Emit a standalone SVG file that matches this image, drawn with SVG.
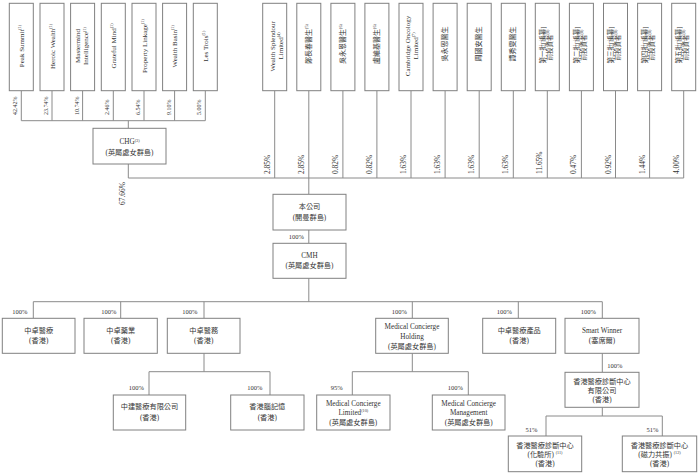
<svg xmlns="http://www.w3.org/2000/svg" width="700" height="475" viewBox="0 0 700 475">
<style>
.b{fill:#fff;stroke:#808080;stroke-width:1}
.l{stroke:#8a8a8a;stroke-width:1;fill:none}
.t{font-family:"Liberation Serif","Noto Sans CJK TC",serif;font-size:7.2px;fill:#333;text-anchor:middle}
.v{font-family:"Liberation Serif","Noto Sans CJK TC",serif;font-size:7px;fill:#333}
.vc{font-family:"Liberation Serif","Noto Sans CJK TC",serif;font-size:6.5px;fill:#333}
.p{font-family:"Liberation Serif",serif;font-size:6.5px;fill:#333}
.pl{font-family:"Liberation Serif",serif;font-size:6px;fill:#333}
.pr{font-family:"Liberation Serif",serif;font-size:7.4px;fill:#333}
.e{text-anchor:end}
.s{font-size:4.2px}
</style>
<rect width="700" height="475" fill="#fff"/>
<g id="connectors">
<path class="l" d="M21.3 90.7V120.7M52 90.7V120.7M82.6 90.7V120.7M113.3 90.7V120.7M144 90.7V120.7M174.6 90.7V120.7M205.3 90.7V120.7M21.3 120.7H205.3M128.3 120.7V128.3M128.3 164V178M128.3 178H683.7"/>
<path class="l" d="M274.7 90.7V178M308.8 90.7V194.3M342.9 90.7V178M376.9 90.7V178M411 90.7V178M445.1 90.7V178M479.2 90.7V178M513.3 90.7V178M547.3 90.7V178M581.4 90.7V178M615.5 90.7V178M649.6 90.7V178M683.7 90.7V178"/>
<path class="l" d="M308.8 230V243.3M308.8 278.3V301.7M33.3 301.7H602.3M33.3 301.7V318.3M120.7 301.7V318.3M204 301.7V318.3M412.3 301.7V318.3M518.3 301.7V318.3M602.3 301.7V318.3"/>
<path class="l" d="M204 353.3V371.7M149 371.7H270M149 371.7V395M270 371.7V395M412.3 353.3V371.7M352.3 371.7H468.3M352.3 371.7V395M468.3 371.7V395M602.3 353.3V372.3M602.3 407.3V416M546 416H662.3M546 416V436M662.3 416V436"/>
</g>
<g id="pct">
<text class="pl" transform="translate(17.3 115) rotate(-90)">42.42%</text>
<text class="pl" transform="translate(48 115) rotate(-90)">23.74%</text>
<text class="pl" transform="translate(78.6 115) rotate(-90)">10.74%</text>
<text class="pl" transform="translate(109.3 115) rotate(-90)">2.46%</text>
<text class="pl" transform="translate(140 115) rotate(-90)">6.54%</text>
<text class="pl" transform="translate(170.6 115) rotate(-90)">9.10%</text>
<text class="pl" transform="translate(201.3 115) rotate(-90)">5.00%</text>
<text class="pr" transform="translate(124.5 205) rotate(-90)">67.66%</text>
<text class="pr" transform="translate(269.7 174) rotate(-90)">2.85%</text>
<text class="pr" transform="translate(303.8 174) rotate(-90)">2.85%</text>
<text class="pr" transform="translate(337.9 174) rotate(-90)">0.82%</text>
<text class="pr" transform="translate(371.9 174) rotate(-90)">0.82%</text>
<text class="pr" transform="translate(406 174) rotate(-90)">1.63%</text>
<text class="pr" transform="translate(440.1 174) rotate(-90)">1.63%</text>
<text class="pr" transform="translate(474.2 174) rotate(-90)">1.63%</text>
<text class="pr" transform="translate(508.3 174) rotate(-90)">1.63%</text>
<text class="pr" transform="translate(542.3 174) rotate(-90)">11.65%</text>
<text class="pr" transform="translate(576.4 174) rotate(-90)">0.47%</text>
<text class="pr" transform="translate(610.5 174) rotate(-90)">0.92%</text>
<text class="pr" transform="translate(644.6 174) rotate(-90)">1.44%</text>
<text class="pr" transform="translate(678.7 174) rotate(-90)">4.00%</text>
<text class="p e" x="304" y="239">100%</text>
<text class="p e" x="27.5" y="313.5">100%</text>
<text class="p e" x="116.5" y="313.5">100%</text>
<text class="p e" x="197.5" y="313.5">100%</text>
<text class="p e" x="407" y="313.5">100%</text>
<text class="p e" x="512" y="313.5">100%</text>
<text class="p e" x="596" y="313.5">100%</text>
<text class="p e" x="144" y="390">100%</text>
<text class="p e" x="262.5" y="390">100%</text>
<text class="p e" x="342.7" y="390">95%</text>
<text class="p e" x="463" y="390">100%</text>
<text class="p" x="607.3" y="367.5">100%</text>
<text class="p e" x="537.3" y="432">51%</text>
<text class="p e" x="658.3" y="432">51%</text>
</g>
<g id="peak-summit"><rect class="b" x="9.3" y="3.3" width="24" height="87.4"/><text class="v" transform="translate(21.3 46) rotate(-90)" x="-21.2" y="2.5">Peak Summit<tspan class="s" dy="-2.8">(1)</tspan></text></g>
<g id="heroic-wealth"><rect class="b" x="40" y="3.3" width="24" height="87.4"/><text class="v" transform="translate(52 46) rotate(-90)" x="-23" y="2.5">Heroic Wealth<tspan class="s" dy="-2.8">(1)</tspan></text></g>
<g id="mastermind"><rect class="b" x="70.6" y="3.3" width="24" height="87.4"/><text class="v" transform="translate(82.6 46) rotate(-90)" x="-16.9" y="-2.2">Mastermind</text><text class="v" transform="translate(82.6 46) rotate(-90)" x="-19" y="5.8">Intelligence<tspan class="s" dy="-2.8">(1)</tspan></text></g>
<g id="grateful-mind"><rect class="b" x="101.3" y="3.3" width="24" height="87.4"/><text class="v" transform="translate(113.3 46) rotate(-90)" x="-22.6" y="2.5">Grateful Mind<tspan class="s" dy="-2.8">(1)</tspan></text></g>
<g id="property-linkage"><rect class="b" x="132" y="3.3" width="24" height="87.4"/><text class="v" transform="translate(144 46) rotate(-90)" x="-26.9" y="2.5">Property Linkage<tspan class="s" dy="-2.8">(1)</tspan></text></g>
<g id="wealth-basin"><rect class="b" x="162.6" y="3.3" width="24" height="87.4"/><text class="v" transform="translate(174.6 46) rotate(-90)" x="-21.4" y="2.5">Wealth Basin<tspan class="s" dy="-2.8">(1)</tspan></text></g>
<g id="les-trois"><rect class="b" x="193.3" y="3.3" width="24" height="87.4"/><text class="v" transform="translate(205.3 46) rotate(-90)" x="-15.8" y="2.5">Les Trois<tspan class="s" dy="-2.8">(1)</tspan></text></g>
<g id="wealth-splendour"><rect class="b" x="262.7" y="3.3" width="24" height="87.4"/><text class="v" transform="translate(274.7 46) rotate(-90)" x="-25.4" y="0.5">Wealth Splendour</text><text class="v" transform="translate(274.7 46) rotate(-90)" x="-13.5" y="8.5">Limited<tspan class="s" dy="-2.8">(4)</tspan></text></g>
<g id="dr-cheng"><rect class="b" x="296.8" y="3.3" width="24" height="87.4"/><text class="v" transform="translate(308.8 44) rotate(-90)" x="-20" y="2">鄭長春醫生<tspan class="s" dy="-2.8">(5)</tspan></text></g>
<g id="dr-ng1"><rect class="b" x="330.9" y="3.3" width="24" height="87.4"/><text class="v" transform="translate(342.9 44) rotate(-90)" x="-20" y="2">吳永恩醫生<tspan class="s" dy="-2.8">(6)</tspan></text></g>
<g id="dr-lo"><rect class="b" x="364.9" y="3.3" width="24" height="87.4"/><text class="v" transform="translate(376.9 44) rotate(-90)" x="-20" y="2">盧維基醫生<tspan class="s" dy="-2.8">(6)</tspan></text></g>
<g id="cambridge"><rect class="b" x="399" y="3.3" width="24" height="87.4"/><text class="v" transform="translate(411 46) rotate(-90)" x="-30.2" y="-1">Cambridge Oncology</text><text class="v" transform="translate(411 46) rotate(-90)" x="-13.5" y="7">Limited<tspan class="s" dy="-2.8">(7)</tspan></text></g>
<g id="dr-ng2"><rect class="b" x="433.1" y="3.3" width="24" height="87.4"/><text class="v" transform="translate(445.1 44) rotate(-90)" x="-17.5" y="2">吳永恩醫生</text></g>
<g id="dr-chow"><rect class="b" x="467.2" y="3.3" width="24" height="87.4"/><text class="v" transform="translate(479.2 44) rotate(-90)" x="-17.5" y="2">周國安醫生</text></g>
<g id="dr-tam"><rect class="b" x="501.3" y="3.3" width="24" height="87.4"/><text class="v" transform="translate(513.3 44) rotate(-90)" x="-17.5" y="2">譚秀雯醫生</text></g>
<g id="inv1"><rect class="b" x="535.3" y="3.3" width="24" height="87.4"/><text class="vc" transform="translate(547.3 45) rotate(-90)" x="-18.4" y="-2.3">第一批[編纂]</text><text class="vc" transform="translate(547.3 45) rotate(-90)" x="-15.5" y="4.5">前投資者<tspan class="s" dy="-2.8">(8)</tspan></text></g>
<g id="inv2"><rect class="b" x="569.4" y="3.3" width="24" height="87.4"/><text class="vc" transform="translate(581.4 45) rotate(-90)" x="-18.4" y="-2.3">第二批[編纂]</text><text class="vc" transform="translate(581.4 45) rotate(-90)" x="-15.5" y="4.5">前投資者<tspan class="s" dy="-2.8">(8)</tspan></text></g>
<g id="inv3"><rect class="b" x="603.5" y="3.3" width="24" height="87.4"/><text class="vc" transform="translate(615.5 45) rotate(-90)" x="-18.4" y="-2.3">第三批[編纂]</text><text class="vc" transform="translate(615.5 45) rotate(-90)" x="-15.5" y="4.5">前投資者<tspan class="s" dy="-2.8">(8)</tspan></text></g>
<g id="inv4"><rect class="b" x="637.6" y="3.3" width="24" height="87.4"/><text class="vc" transform="translate(649.6 45) rotate(-90)" x="-18.4" y="-2.3">第四批[編纂]</text><text class="vc" transform="translate(649.6 45) rotate(-90)" x="-15.5" y="4.5">前投資者<tspan class="s" dy="-2.8">(8)</tspan></text></g>
<g id="inv5"><rect class="b" x="671.7" y="3.3" width="24" height="87.4"/><text class="vc" transform="translate(683.7 45) rotate(-90)" x="-18.4" y="-2.3">第五批[編纂]</text><text class="vc" transform="translate(683.7 45) rotate(-90)" x="-15.5" y="4.5">前投資者<tspan class="s" dy="-2.8">(8)</tspan></text></g>
<g id="chg"><rect class="b" x="93" y="128.3" width="73" height="35.7"/><text class="t"><tspan x="129.5" y="144.3">CHG<tspan class="s" dy="-2.8">(3)</tspan></tspan><tspan x="129.5" y="154.6">(英屬處女群島)</tspan></text></g>
<g id="company"><rect class="b" x="273" y="194.3" width="73" height="35.7"/><text class="t"><tspan x="309.5" y="209.3">本公司</tspan><tspan x="309.5" y="219.6">(開曼群島)</tspan></text></g>
<g id="cmh"><rect class="b" x="273" y="243.3" width="73" height="35"/><text class="t"><tspan x="309.5" y="258.3">CMH</tspan><tspan x="309.5" y="267.6">(英屬處女群島)</tspan></text></g>
<g id="zz-medical"><rect class="b" x="2.3" y="318.3" width="72.7" height="35"/><text class="t"><tspan x="38.7" y="332.6">中卓醫療</tspan><tspan x="38.7" y="343.3">(香港)</tspan></text></g>
<g id="zz-pharma"><rect class="b" x="84" y="318.3" width="73.3" height="35"/><text class="t"><tspan x="120.7" y="332.6">中卓藥業</tspan><tspan x="120.7" y="343.3">(香港)</tspan></text></g>
<g id="zz-services"><rect class="b" x="167.3" y="318.3" width="72.7" height="35"/><text class="t"><tspan x="203.7" y="332.6">中卓醫務</tspan><tspan x="203.7" y="343.3">(香港)</tspan></text></g>
<g id="mch"><rect class="b" x="375.7" y="318.3" width="72.6" height="35"/><text class="t"><tspan x="412" y="328.6">Medical Concierge</tspan><tspan x="412" y="338.6">Holding</tspan><tspan x="412" y="348.6">(英屬處女群島)</tspan></text></g>
<g id="zz-products"><rect class="b" x="482.7" y="318.3" width="73" height="35"/><text class="t"><tspan x="519.2" y="332.6">中卓醫療產品</tspan><tspan x="519.2" y="343.3">(香港)</tspan></text></g>
<g id="smart-winner"><rect class="b" x="565" y="318.3" width="74" height="35"/><text class="t"><tspan x="602" y="332.6">Smart Winner</tspan><tspan x="602" y="343.3">(塞席爾)</tspan></text></g>
<g id="zj-medical"><rect class="b" x="113.3" y="395" width="72.4" height="35"/><text class="t"><tspan x="149.5" y="409.3">中建醫療有限公司</tspan><tspan x="149.5" y="419.9">(香港)</tspan></text></g>
<g id="hk-brain"><rect class="b" x="230.7" y="395" width="73.3" height="35"/><text class="t"><tspan x="267.3" y="409.3">香港腦記憶</tspan><tspan x="267.3" y="419.9">(香港)</tspan></text></g>
<g id="mcl"><rect class="b" x="316.7" y="395" width="73.3" height="35"/><text class="t"><tspan x="353.3" y="405.9">Medical Concierge</tspan><tspan x="353.3" y="414.9">Limited<tspan class="s" dy="-2.8">(10)</tspan></tspan><tspan x="353.3" y="424.9">(英屬處女群島)</tspan></text></g>
<g id="mcm"><rect class="b" x="432.3" y="395" width="72.7" height="35"/><text class="t"><tspan x="468.7" y="405.9">Medical Concierge</tspan><tspan x="468.7" y="414.9">Management</tspan><tspan x="468.7" y="424.9">(英屬處女群島)</tspan></text></g>
<g id="hkmdc"><rect class="b" x="565" y="372.3" width="74" height="35"/><text class="t"><tspan x="602" y="384.3">香港醫療診斷中心</tspan><tspan x="602" y="392.6">有限公司</tspan><tspan x="602" y="401.9">(香港)</tspan></text></g>
<g id="hkmdc-lab"><rect class="b" x="508.3" y="436" width="73.4" height="35.7"/><text class="t"><tspan x="545" y="448.3">香港醫療診斷中心</tspan><tspan x="545" y="456.6">(化驗所) <tspan class="s" dy="-2.8">(11)</tspan></tspan><tspan x="545" y="465.9">(香港)</tspan></text></g>
<g id="hkmdc-mri"><rect class="b" x="622.3" y="436" width="74.4" height="35.7"/><text class="t"><tspan x="659.5" y="448.3">香港醫療診斷中心</tspan><tspan x="659.5" y="456.6">(磁力共振) <tspan class="s" dy="-2.8">(12)</tspan></tspan><tspan x="659.5" y="465.9">(香港)</tspan></text></g>
</svg>
